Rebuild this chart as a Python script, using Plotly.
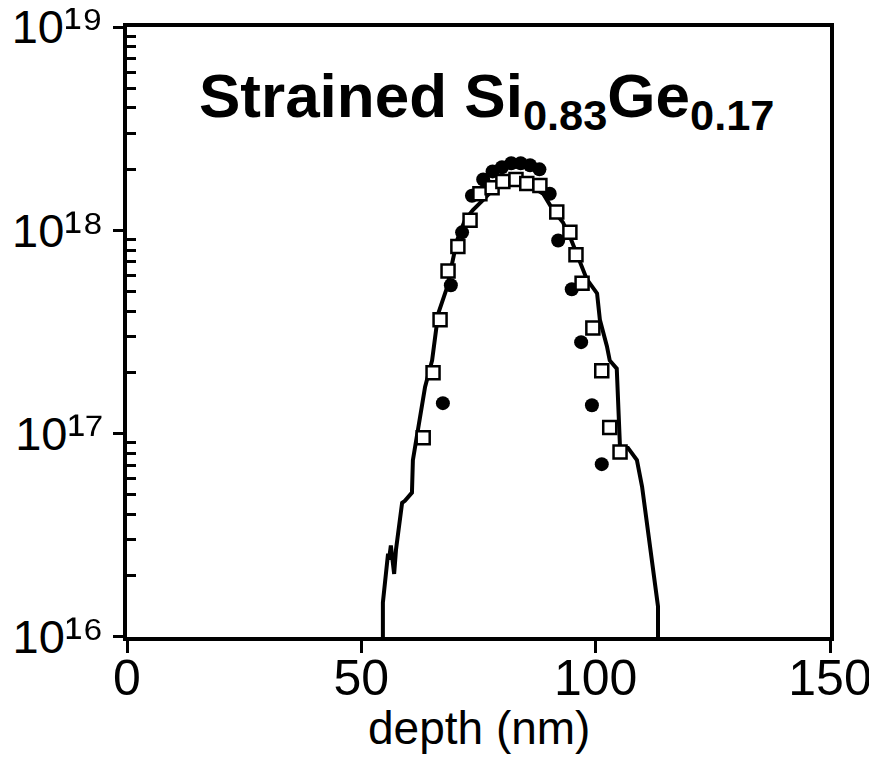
import plotly.graph_objects as go

# simulated profile (solid line)
line_depth = [54.6, 54.6, 55.7, 55.9, 56.3, 57.0, 57.4, 58.7, 59.3, 60.8, 61.0, 62.5, 63.6, 65.1,
              66.1, 66.4, 68.3, 69.3, 70.4, 72.1, 73.8, 76.0, 78.1, 80.2, 83.2, 86.0, 88.8, 90.9,
              93.0, 94.5, 96.2, 98.1, 100.3, 100.9, 102.4, 103.0, 104.5, 104.8, 105.2, 106.9,
              108.8, 109.9, 110.9, 112.2, 113.3, 113.3]
line_logc = [16.00, 16.17, 16.41, 16.38, 16.45, 16.31, 16.43, 16.66, 16.67, 16.71, 16.87, 17.07, 17.23, 17.36,
             17.56, 17.59, 17.72, 17.84, 17.95, 18.05, 18.10, 18.15, 18.20, 18.23, 18.24, 18.22, 18.18, 18.10,
             18.04, 17.97, 17.87, 17.76, 17.69, 17.56, 17.43, 17.36, 17.32, 17.15, 16.93, 16.93,
             16.87, 16.74, 16.57, 16.34, 16.15, 16.00]

# open squares
sq_depth = [63.2, 65.3, 66.8, 68.5, 70.6, 73.2, 75.3, 77.9, 80.2, 83.0, 85.3, 88.1, 91.7, 94.5,
            95.8, 97.1, 99.4, 101.3, 103.0, 105.2]
sq_logc = [16.98, 17.30, 17.56, 17.80, 17.92, 18.05, 18.18, 18.21, 18.24, 18.25, 18.23, 18.22, 18.09, 17.99,
           17.88, 17.74, 17.52, 17.31, 17.03, 16.91]

# filled circles
ci_depth = [67.4, 69.1, 71.5, 73.6, 76.0, 78.0, 80.0, 82.0, 84.0, 86.0, 88.0, 90.2, 92.0, 94.9,
            96.9, 99.2, 101.3]
ci_logc = [17.15, 17.73, 17.99, 18.17, 18.25, 18.29, 18.31, 18.33, 18.33, 18.32, 18.30, 18.18, 17.95, 17.71,
           17.45, 17.14, 16.85]

x_ticks = [0, 50, 100, 150]
y_major = [16, 17, 18, 19]
y_exponents = ["¹⁶", "¹⁷", "¹⁸", "¹⁹"]

FONT = "Liberation Sans, Arial, sans-serif"

fig = go.Figure()
fig.add_trace(go.Scatter(x=line_depth, y=[10 ** v for v in line_logc], mode="lines",
                         line=dict(color="black", width=4), showlegend=False))
fig.add_trace(go.Scatter(x=ci_depth, y=[10 ** v for v in ci_logc], mode="markers",
                         marker=dict(symbol="circle", size=14, color="black"), showlegend=False))
fig.add_trace(go.Scatter(x=sq_depth, y=[10 ** v for v in sq_logc], mode="markers",
                         marker=dict(symbol="square", size=13, color="white",
                                     line=dict(color="black", width=2.5)), showlegend=False))

minor_vals = [m * 10 ** e for e in [16, 17, 18] for m in range(2, 10)]

# page body has an 8px margin, so the figure is drawn 8px smaller and offset
fig.update_layout(
    width=869, height=752,
    margin=dict(l=119, r=47, t=19, b=123),
    paper_bgcolor="white", plot_bgcolor="white",
    font=dict(family=FONT, color="black"),
    xaxis=dict(range=[0, 150], tickvals=x_ticks, ticktext=[str(v) for v in x_ticks],
               ticks="outside", ticklen=12, tickwidth=3, tickcolor="black",
               showline=True, linewidth=4, linecolor="black", mirror=True,
               showgrid=False, zeroline=False, automargin=False,
               ticklabeloverflow="allow", ticklabelstandoff=-18,
               tickfont=dict(size=50, family=FONT)),
    yaxis=dict(type="log", range=[15.9999, 19.0001],
               tickvals=[10 ** e for e in y_major],
               ticktext=["10<span style='font-size:52px'>%s</span>" % s for s in y_exponents],
               ticks="outside", ticklen=10, tickwidth=3, tickcolor="black",
               showline=True, linewidth=4, linecolor="black", mirror=True,
               showgrid=False, zeroline=False, automargin=False,
               ticklabeloverflow="allow",
               tickfont=dict(size=47, family=FONT),
               minor=dict(tickvals=minor_vals, ticks="inside", ticklen=9, tickwidth=3,
                          tickcolor="black", showgrid=False)),
)

fig.add_annotation(
    text="depth (nm)", xref="paper", yref="paper", x=0.5, y=-0.149,
    xanchor="center", yanchor="middle", showarrow=False,
    font=dict(size=46, family=FONT, color="black"))

fig.add_annotation(
    text="<b>Strained Si<sub>0.83</sub>Ge<sub>0.17</sub></b>",
    xref="paper", yref="paper", x=0.512, y=0.947, xanchor="center", yanchor="top",
    showarrow=False, font=dict(size=62, family=FONT, color="black"))

fig.write_html("out.html")
